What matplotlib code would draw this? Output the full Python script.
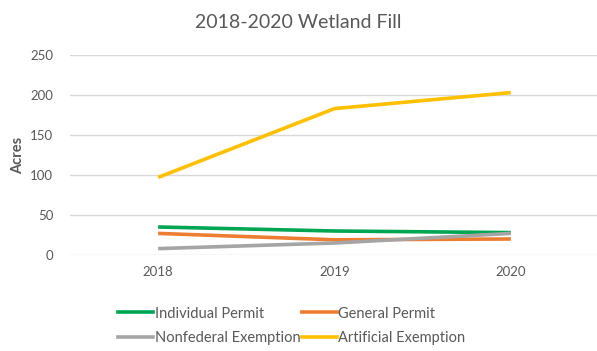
import matplotlib.pyplot as plt
from matplotlib.lines import Line2D

years = ["2018", "2019", "2020"]
individual_permit = [35, 30, 28]
general_permit = [27, 19, 20]
nonfederal_exemption = [8, 15, 27]
artificial_exemption = [97, 183, 203]
series_names = ["Individual Permit", "General Permit",
                "Nonfederal Exemption", "Artificial Exemption"]
y_ticks = [0, 50, 100, 150, 200, 250]

colors = ["#00A651", "#ED7D31", "#A5A5A5", "#FFC000"]
series = [individual_permit, general_permit, nonfederal_exemption, artificial_exemption]

plt.rcParams['font.family'] = ['Lato', 'DejaVu Sans']
fig = plt.figure(figsize=(5.97, 3.51), dpi=100)
ax = fig.add_axes([70 / 597, 1 - 255 / 351, (599 - 70) / 597, 200 / 351])

x = list(range(len(years)))
for vals, c in zip(series, colors):
    ax.plot(x, vals, color=c, lw=2.6, solid_capstyle='butt')

ax.set_xlim(-0.5, 2.5)
ax.set_ylim(0, 250)
ax.set_yticks(y_ticks)
ax.set_xticks(x)
ax.set_xticklabels(years)
ax.grid(axis='y', color='#D9D9D9', lw=1)
ax.set_axisbelow(True)
for s in ax.spines.values():
    s.set_visible(False)
ax.tick_params(length=0, colors='#595959', labelsize=9.5)
ax.tick_params(axis='x', pad=8)
ax.tick_params(axis='y', pad=12)
ax.set_ylabel("Acres", fontsize=10.5, fontweight='bold', color='#595959', labelpad=4)

fig.text(0.5, 1 - 22 / 351, "2018-2020 Wetland Fill", ha='center', va='center',
         fontsize=14, color='#595959')

handles = [Line2D([], [], color=c, lw=2.6) for c in colors]
# order so the two rows read: Individual/General, Nonfederal/Artificial
order = [0, 2, 1, 3]
leg = fig.legend([handles[i] for i in order], [series_names[i] for i in order],
                 ncol=2, loc='center', bbox_to_anchor=(292 / 597, 1 - 326 / 351),
                 frameon=False, fontsize=10.5, handlelength=2.4, handletextpad=0.1,
                 columnspacing=0.1, labelspacing=0.75)
for t in leg.get_texts():
    t.set_color('#595959')

fig.savefig("out.png", dpi=100)
